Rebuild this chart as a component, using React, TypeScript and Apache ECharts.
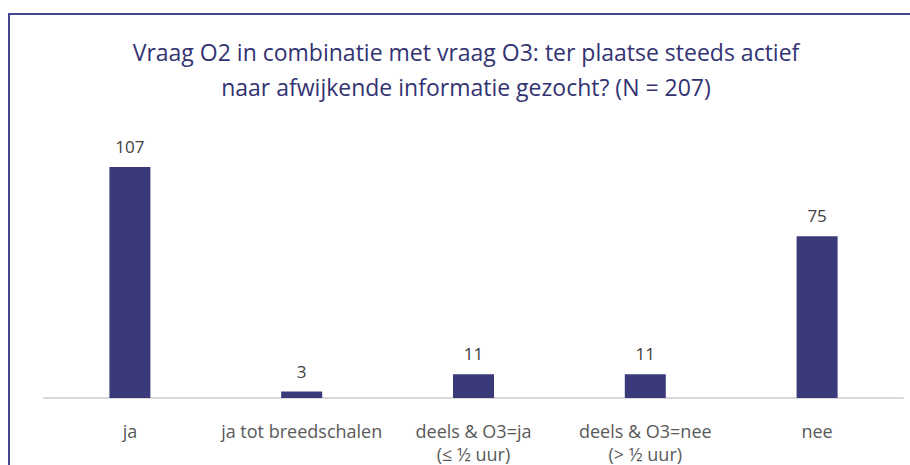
import React, { useEffect, useRef } from "react";
import * as echarts from "echarts";

const categories = [
  "ja",
  "ja tot breedschalen",
  "deels & O3=ja\n(≤ ½ uur)",
  "deels & O3=nee\n(> ½ uur)",
  "nee",
];
const values = [107, 3, 11, 11, 75];
const titleText =
  "Vraag O2 in combinatie met vraag O3: ter plaatse steeds actief\nnaar afwijkende informatie gezocht? (N = 207)";

const FONT = "'Open Sans', sans-serif";

export default function App() {
  const ref = useRef<HTMLDivElement>(null);
  useEffect(() => {
    if (!ref.current) return;
    const chart = echarts.init(ref.current, null, { renderer: "svg" });
    chart.setOption({
      animation: false,
      backgroundColor: "#ffffff",
      title: {
        text: titleText,
        left: 466,
        top: 34,
        padding: 0,
        textAlign: "center",
        textStyle: {
          color: "#333372",
          fontSize: 23,
          fontWeight: "normal",
          fontFamily: FONT,
          lineHeight: 35,
        },
      },
      graphic: [
        {
          type: "rect",
          shape: { x: 9, y: 14, width: 1000, height: 600 },
          style: { fill: "none", stroke: "#46468E", lineWidth: 2 },
          silent: true,
          z: 100,
        },
      ],
      grid: { left: 44, right: 7, top: 139, bottom: 62, containLabel: false },
      xAxis: {
        type: "category",
        data: categories,
        axisLine: { show: true, lineStyle: { color: "#D9D9D9", width: 2 } },
        axisTick: { show: false },
        axisLabel: {
          color: "#595959",
          fontSize: 18,
          fontFamily: FONT,
          margin: 21,
          lineHeight: 23,
          interval: 0,
        },
      },
      yAxis: {
        type: "value",
        min: 0,
        max: 120,
        show: false,
        splitLine: { show: false },
      },
      series: [
        {
          type: "bar",
          data: values,
          barWidth: 41,
          itemStyle: { color: "#3A3A7A" },
          label: {
            show: true,
            position: "top",
            distance: 12,
            color: "#404040",
            fontSize: 17,
            fontFamily: FONT,
          },
        },
      ],
    });
    return () => chart.dispose();
  }, []);
  return (
    <div
      ref={ref}
      style={{ position: "fixed", left: 0, top: 0, width: 910, height: 465 }}
    />
  );
}
